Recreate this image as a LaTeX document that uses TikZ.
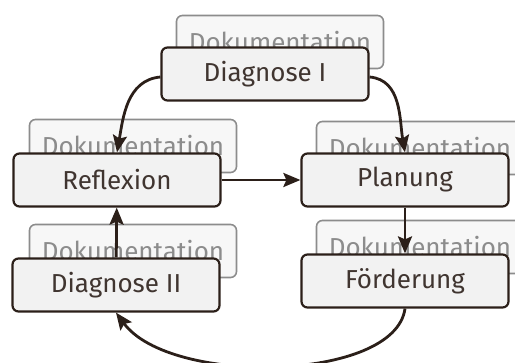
\documentclass[tikz,border=0pt]{standalone}
\usepackage{fontspec}
\setmainfont{Fira Sans}
\usetikzlibrary{arrows.meta}
\definecolor{dunkel}{RGB}{43,31,25}
\definecolor{grau}{RGB}{140,140,140}
\definecolor{hell}{RGB}{242,242,242}
\begin{document}
\begin{tikzpicture}[x=1pt, y=-1pt,
                    every node/.style={rectangle, rounded corners=6pt, minimum width=207pt, minimum height=53pt,
                                       inner sep=0pt, font=\fontsize{26}{30}\selectfont},
                    stufe/.style={draw=dunkel, line width=2.2pt, fill=hell, text=dunkel!90},
                    doku/.style={draw=grau, line width=1.6pt, fill=hell!60, text=grau},
                    edge_style/.style={draw=dunkel, line width=2.8pt, -{Stealth[length=17pt,width=14pt,inset=3pt]}}]
                    \useasboundingbox (0,0) rectangle (515,363);
                    \clip (0,0) rectangle (515,363);
                    \node[doku] (dok1) at (280, 42) {Dokumentation};
                    \node[doku] (dok2) at (133, 146) {Dokumentation};
                    \node[doku] (dok3) at (420, 148) {Dokumentation};
                    \node[doku] (dok4) at (133, 251) {Dokumentation};
                    \node[doku] (dok5) at (420, 247) {Dokumentation};
                    \node[stufe] (diag1) at (265, 74) {Diagnose I};
                    \node[stufe] (refl) at (117, 180) {Reflexion};
                    \node[stufe] (plan) at (405, 180) {Planung};
                    \node[stufe] (foerd) at (405, 281) {Förderung};
                    \node[stufe] (diag2) at (116, 285) {Diagnose II};
                    \draw[edge_style] ([yshift=-3pt]diag1.west) to[out=185, in=80] (refl.north);
                    \draw[edge_style] ([yshift=-3pt]diag1.east) to[out=-5, in=100] (plan.north);
                    \draw[edge_style] (refl) -- (plan);
                    \draw[edge_style] (plan) -- (foerd);
                    \draw[edge_style] (foerd.south) .. controls (395,382) and (170,386) .. (diag2.south);
                    \draw[edge_style] (diag2) -- (refl);
                \end{tikzpicture}
\end{document}
